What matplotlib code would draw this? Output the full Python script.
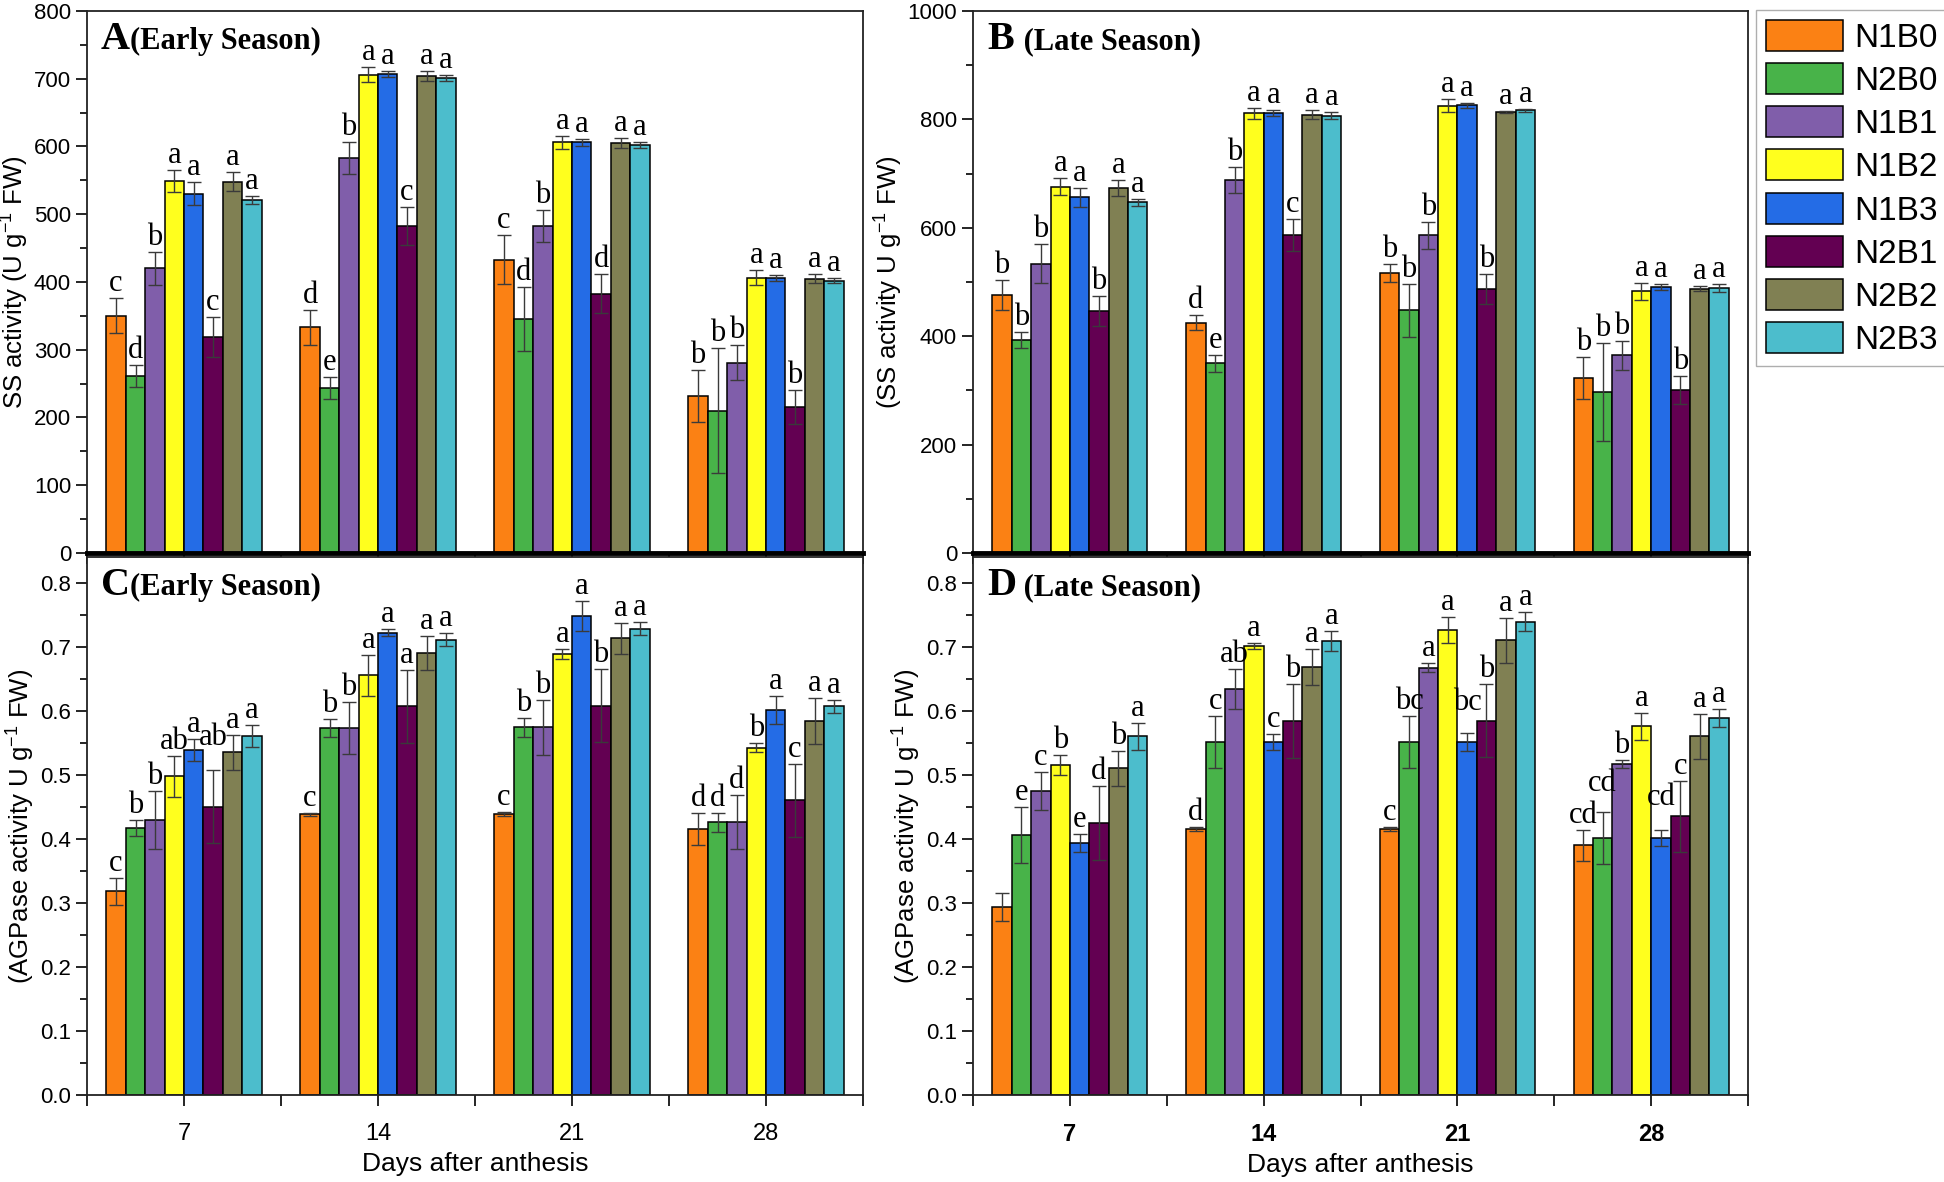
import matplotlib
matplotlib.use('Agg')
import matplotlib.pyplot as plt
import numpy as np
from matplotlib import font_manager as fm
from matplotlib.ticker import MultipleLocator, FixedLocator

names = {f.name for f in fm.fontManager.ttflist}
SANS = 'Liberation Sans' if 'Liberation Sans' in names else 'DejaVu Sans'
NARROW = 'Liberation Sans Narrow' if 'Liberation Sans Narrow' in names else SANS
SERIF = 'Liberation Serif' if 'Liberation Serif' in names else 'DejaVu Serif'

plt.rcParams['font.family'] = SANS
plt.rcParams['mathtext.fontset'] = 'custom'
plt.rcParams['mathtext.rm'] = SANS
plt.rcParams['mathtext.default'] = 'regular'

days = ['7', '14', '21', '28']
treatments = ['N1B0', 'N2B0', 'N1B1', 'N1B2', 'N1B3', 'N2B1', 'N2B2', 'N2B3']
colors = ['#FB8114', '#48B349', '#805EAA', '#FFFF1E', '#246CE6', '#630052', '#808053', '#4CBDCC']

# ---- Panel A: SS activity, early season (rows = treatments, cols = days)
ss_early = [[350, 333, 433, 232], [261, 244, 345, 210], [420, 583, 483, 281], [549, 706, 606, 406],
            [530, 707, 606, 406], [319, 483, 383, 216], [548, 704, 605, 405], [521, 701, 602, 402]]
ss_early_err = [[26, 26, 36, 38], [16, 16, 47, 92], [24, 24, 24, 26], [16, 11, 10, 11],
                [17, 4, 5, 5], [29, 28, 29, 25], [14, 7, 7, 7], [6, 4, 4, 4]]
ss_early_let = [['c', 'd', 'c', 'b'], ['d', 'e', 'd', 'b'], ['b', 'b', 'b', 'b'], ['a', 'a', 'a', 'a'],
                ['a', 'a', 'a', 'a'], ['c', 'c', 'd', 'b'], ['a', 'a', 'a', 'a'], ['a', 'a', 'a', 'a']]

# ---- Panel B: SS activity, late season
ss_late = [[476, 425, 517, 323], [393, 350, 448, 297], [534, 689, 586, 365], [676, 811, 825, 483],
           [656, 812, 826, 491], [446, 587, 487, 301], [674, 809, 814, 488], [647, 807, 817, 489]]
ss_late_err = [[27, 14, 17, 39], [14, 16, 49, 90], [36, 24, 25, 27], [15, 10, 12, 16],
               [18, 5, 5, 6], [28, 30, 28, 26], [15, 8, 2, 5], [7, 6, 3, 8]]
ss_late_let = [['b', 'd', 'b', 'b'], ['b', 'e', 'b', 'b'], ['b', 'b', 'b', 'b'], ['a', 'a', 'a', 'a'],
               ['a', 'a', 'a', 'a'], ['b', 'c', 'b', 'b'], ['a', 'a', 'a', 'a'], ['a', 'a', 'a', 'a']]

# ---- Panel C: AGPase activity, early season
agp_early = [[0.318, 0.438, 0.439, 0.415], [0.417, 0.573, 0.574, 0.426], [0.429, 0.573, 0.574, 0.426],
             [0.498, 0.655, 0.689, 0.542], [0.539, 0.722, 0.748, 0.601], [0.450, 0.607, 0.608, 0.460],
             [0.535, 0.690, 0.713, 0.584], [0.561, 0.711, 0.728, 0.607]]
agp_early_err = [[0.021, 0.003, 0.003, 0.025], [0.013, 0.014, 0.015, 0.015], [0.045, 0.041, 0.043, 0.042],
                 [0.032, 0.032, 0.008, 0.007], [0.017, 0.005, 0.023, 0.022], [0.057, 0.057, 0.057, 0.057],
                 [0.027, 0.027, 0.024, 0.036], [0.017, 0.010, 0.010, 0.010]]
agp_early_let = [['c', 'c', 'c', 'd'], ['b', 'b', 'b', 'd'], ['b', 'b', 'b', 'd'], ['ab', 'a', 'a', 'b'],
                 ['a', 'a', 'a', 'a'], ['ab', 'a', 'b', 'c'], ['a', 'a', 'a', 'a'], ['a', 'a', 'a', 'a']]

# ---- Panel D: AGPase activity, late season
agp_late = [[0.293, 0.415, 0.415, 0.390], [0.406, 0.551, 0.551, 0.401], [0.475, 0.634, 0.667, 0.517],
            [0.515, 0.701, 0.726, 0.576], [0.393, 0.551, 0.551, 0.401], [0.425, 0.584, 0.584, 0.435],
            [0.510, 0.668, 0.710, 0.560], [0.560, 0.709, 0.739, 0.589]]
agp_late_err = [[0.022, 0.003, 0.003, 0.024], [0.044, 0.041, 0.040, 0.041], [0.030, 0.031, 0.007, 0.006],
                [0.016, 0.005, 0.021, 0.021], [0.014, 0.013, 0.014, 0.013], [0.058, 0.058, 0.057, 0.056],
                [0.027, 0.028, 0.035, 0.035], [0.021, 0.016, 0.015, 0.014]]
agp_late_let = [['', 'd', 'c', 'cd'], ['e', 'c', 'bc', 'cd'], ['c', 'ab', 'a', 'b'], ['b', 'a', 'a', 'a'],
                ['e', 'c', 'bc', 'cd'], ['d', 'b', 'b', 'c'], ['b', 'a', 'a', 'a'], ['a', 'a', 'a', 'a']]

# extra vertical lift (pixels) of a few crowded letter labels: (panel, treatment index, day index)
label_lift = {('C', 5, 0): 18, ('D', 4, 2): 16, ('D', 1, 3): 14, ('D', 4, 3): 18}

W, H = 1944, 1182
fig = plt.figure(figsize=(W / 100, H / 100), dpi=100)

def fig_rect(l, t, r, b):
    return [l / W, 1 - b / H, (r - l) / W, (b - t) / H]

panels = [
    dict(rect=fig_rect(87, 11, 863, 553), vals=ss_early, err=ss_early_err, let=ss_early_let,
         ylim=(0, 800), major=100, minor=50, fmt='{:.0f}', ylabel='SS activity (U g$^{-1}$ FW)',
         tag='A', title='(Early Season)', xlabels=False, bold=False),
    dict(rect=fig_rect(973, 11, 1748, 553), vals=ss_late, err=ss_late_err, let=ss_late_let,
         ylim=(0, 1000), major=200, minor=100, fmt='{:.0f}', ylabel='(SS activity U g$^{-1}$ FW)',
         tag='B', title=' (Late Season)', xlabels=False, bold=False),
    dict(rect=fig_rect(87, 557, 863, 1095), vals=agp_early, err=agp_early_err, let=agp_early_let,
         ylim=(0, 0.84), major=0.1, minor=0.05, fmt='{:.1f}', ylabel='(AGPase activity U g$^{-1}$ FW)',
         tag='C', title='(Early Season)', xlabels=True, bold=False),
    dict(rect=fig_rect(973, 557, 1748, 1095), vals=agp_late, err=agp_late_err, let=agp_late_let,
         ylim=(0, 0.84), major=0.1, minor=0.05, fmt='{:.1f}', ylabel='(AGPase activity U g$^{-1}$ FW)',
         tag='D', title=' (Late Season)', xlabels=True, bold=True),
]

x = np.arange(1, len(days) + 1)
bw = 0.1
handles = []
for pi, p in enumerate(panels):
    ax = fig.add_axes(p['rect'])
    for ti in range(len(treatments)):
        xs = x - 0.4 + bw * (ti + 0.5)
        bars = ax.bar(xs, p['vals'][ti], width=bw, color=colors[ti], edgecolor='black',
                      linewidth=1.1, label=treatments[ti], zorder=2)
        ax.errorbar(xs, p['vals'][ti], yerr=p['err'][ti], fmt='none', ecolor='#3a3a3a',
                    elinewidth=1.0, capsize=5, capthick=1.0, zorder=3)
        if pi == 0:
            handles.append(bars)
        for di, (xi, v, e, l) in enumerate(zip(xs, p['vals'][ti], p['err'][ti], p['let'][ti])):
            if l:
                lift = label_lift.get((p['tag'], ti, di), 0)
                ax.annotate(l, (xi, v + e), xytext=(0, lift), textcoords='offset pixels',
                            ha='center', va='bottom', fontsize=22, family=SERIF, zorder=4)
    ax.set_xlim(0.5, 4.5)
    ax.set_ylim(*p['ylim'])
    ax.yaxis.set_major_locator(MultipleLocator(p['major']))
    ax.yaxis.set_minor_locator(MultipleLocator(p['minor']))
    ax.set_yticks(ax.get_yticks())
    ax.set_yticklabels([p['fmt'].format(t) for t in ax.get_yticks()])
    ax.set_ylim(*p['ylim'])
    ax.set_xticks(x)
    ax.xaxis.set_minor_locator(FixedLocator([0.5, 1.5, 2.5, 3.5, 4.5]))
    ax.tick_params(axis='both', which='major', direction='out', length=8, width=1.2, labelsize=16)
    ax.tick_params(axis='x', which='major', pad=12)
    ax.tick_params(axis='y', which='minor', direction='out', length=5, width=1.2)
    ax.tick_params(axis='x', which='minor', direction='out', length=8, width=1.2)
    for lab in ax.get_yticklabels():
        lab.set_family(NARROW)
    if p['xlabels']:
        ax.set_xticklabels(days, fontsize=17, fontweight='bold' if p['bold'] else 'normal', family=NARROW)
        ax.set_xlabel('Days after anthesis', fontsize=19, labelpad=5)
    else:
        ax.set_xticklabels([])
    ax.set_ylabel(p['ylabel'], fontsize=18.5, labelpad=2)
    for sp in ax.spines.values():
        sp.set_linewidth(1.3)
        sp.set_color('#222222')
    if not p['xlabels']:
        ax.spines['bottom'].set_linewidth(3.5)
        ax.spines['bottom'].set_color('black')
    ax.annotate(p['tag'], (0, 1), xycoords='axes fraction', xytext=(14, -38), textcoords='offset pixels',
                fontsize=29, fontweight='bold', family=SERIF, ha='left', va='baseline')
    ax.annotate(p['title'], (0, 1), xycoords='axes fraction', xytext=(43, -38), textcoords='offset pixels',
                fontsize=22, fontweight='bold', family=SERIF, ha='left', va='baseline')

leg = fig.legend(handles=handles, labels=treatments, loc='upper left',
                 bbox_to_anchor=(1756 / W, 1 - 10 / H), fontsize=24, frameon=True, fancybox=False,
                 edgecolor='#9a9a9a', handlelength=2.3, handleheight=1.05, handletextpad=0.35,
                 labelspacing=0.28, borderpad=0.3, borderaxespad=0)
leg.get_frame().set_linewidth(1.0)

fig.savefig('out.png', dpi=100)
